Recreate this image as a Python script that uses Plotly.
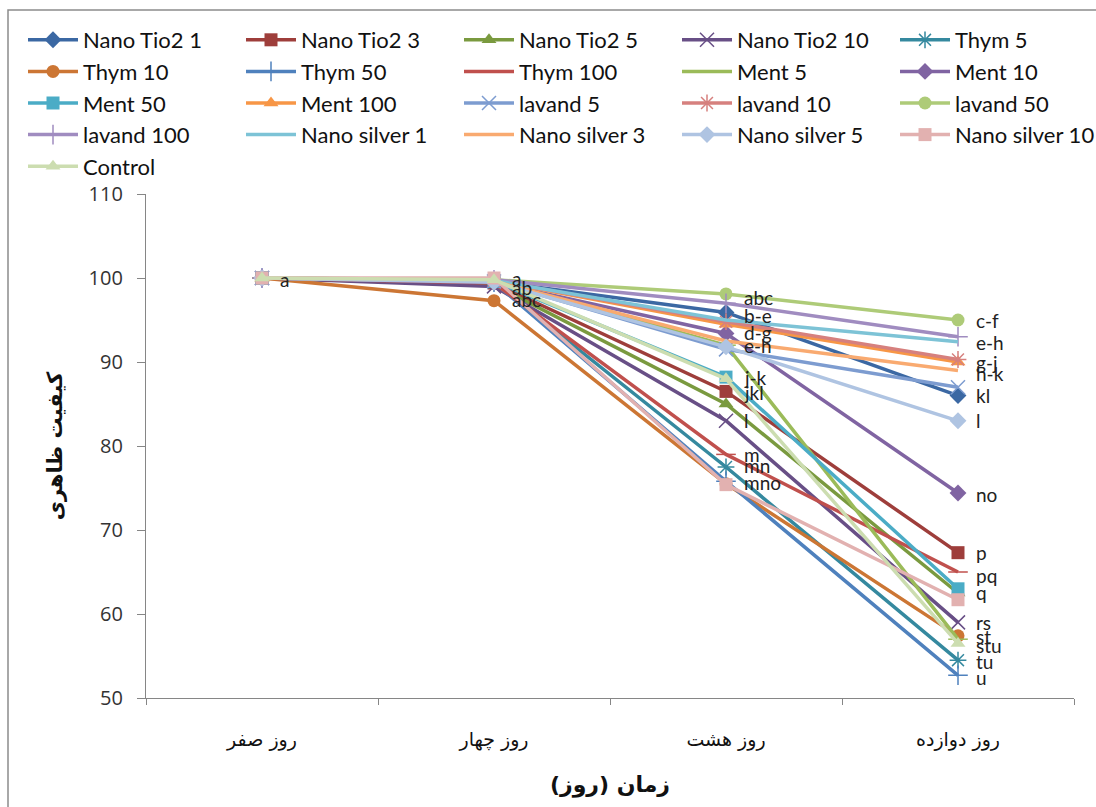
import plotly.graph_objects as go

days = ["روز صفر", "روز چهار", "روز هشت", "روز دوازده"]

series_names = ["Nano Tio2 1", "Nano Tio2 3", "Nano Tio2 5", "Nano Tio2 10", "Thym 5",
                "Thym 10", "Thym 50", "Thym 100", "Ment 5", "Ment 10",
                "Ment 50", "Ment 100", "lavand 5", "lavand 10", "lavand 50",
                "lavand 100", "Nano silver 1", "Nano silver 3", "Nano silver 5", "Nano silver 10",
                "Control"]

nano_tio2_1 = [100, 99.6, 95.9, 86.0]
nano_tio2_3 = [100, 99.4, 86.5, 67.3]
nano_tio2_5 = [100, 99.2, 85.0, 62.5]
nano_tio2_10 = [100, 99.0, 83.0, 59.0]
thym_5 = [100, 99.5, 77.5, 54.5]
thym_10 = [100, 97.3, 75.5, 57.4]
thym_50 = [100, 99.5, 75.8, 52.7]
thym_100 = [100, 99.4, 79.0, 65.0]
ment_5 = [100, 99.7, 92.0, 57.0]
ment_10 = [100, 99.5, 93.4, 74.4]
ment_50 = [100, 99.6, 88.2, 63.0]
ment_100 = [100, 99.7, 94.5, 90.0]
lavand_5 = [100, 99.6, 91.5, 87.0]
lavand_10 = [100, 99.7, 94.8, 90.3]
lavand_50 = [100, 99.8, 98.1, 95.0]
lavand_100 = [100, 99.8, 97.0, 93.0]
nano_silver_1 = [100, 99.7, 95.0, 92.4]
nano_silver_3 = [100, 99.6, 92.5, 89.0]
nano_silver_5 = [100, 99.5, 91.8, 83.0]
nano_silver_10 = [100, 100, 75.4, 61.7]
control = [100, 99.8, 88.0, 56.5]

series_values = [nano_tio2_1, nano_tio2_3, nano_tio2_5, nano_tio2_10, thym_5,
                 thym_10, thym_50, thym_100, ment_5, ment_10,
                 ment_50, ment_100, lavand_5, lavand_10, lavand_50,
                 lavand_100, nano_silver_1, nano_silver_3, nano_silver_5, nano_silver_10,
                 control]

# significance letters (day index, y position, text)
label_day = [0, 1, 1, 1,
             2, 2, 2, 2, 2, 2, 2, 2, 2, 2,
             3, 3, 3, 3, 3, 3, 3, 3, 3, 3, 3, 3, 3, 3, 3]
label_y = [99.8, 99.9, 98.9, 97.5,
           97.7, 95.5, 93.5, 92.0, 88.1, 86.4, 83.0, 79.0, 77.7, 75.7,
           94.9, 92.3, 89.9, 88.6, 86.0, 83.0, 74.2, 67.3, 64.6, 62.6, 59.0, 57.3, 56.3, 54.4, 52.5]
label_text = ["a", "a", "ab", "abc",
              "abc", "b-e", "d-g", "e-h", "j-k", "jkl", "l", "m", "mn", "mno",
              "c-f", "e-h", "g-j", "h-k", "kl", "l", "no", "p", "pq", "q", "rs", "st", "stu", "tu", "u"]

colors = ["#3B68A3", "#9E3E3B", "#7A9A3F", "#684F86", "#35899F",
          "#CC7634", "#4F81BD", "#C0504D", "#9BBB59", "#8064A2",
          "#4BACC6", "#F79646", "#7D9CD0", "#D6807E", "#AECB78",
          "#A08CC0", "#7DC3D6", "#F9AA70", "#AFC4E2", "#E2B1B0",
          "#CCDDB0"]
symbols = ["diamond", "square", "triangle-up", "x-thin-open", "asterisk-open",
           "circle", "cross-thin-open", "line-ew-open", "line-ew-open", "diamond",
           "square", "triangle-up", "x-thin-open", "asterisk-open", "circle",
           "cross-thin-open", None, None, "diamond", "square",
           "triangle-up"]

L, R, T, B = 146, 22, 194, 109
PW, PH = 1096 - L - R, 807 - T - B

legend_ids = ["legend", "legend2", "legend3", "legend4", "legend5"]

fig = go.Figure()
for i, (name, vals, col, sym) in enumerate(zip(series_names, series_values, colors, symbols)):
    if sym is None:
        mode = "lines"
        marker = dict()
    else:
        mode = "lines+markers"
        if sym in ("x-thin-open", "asterisk-open", "cross-thin-open", "line-ew-open"):
            marker = dict(symbol=sym, size=14, line=dict(color=col, width=1.5), color=col)
        else:
            marker = dict(symbol=sym, size=13, color=col, line=dict(width=0))
    fig.add_trace(go.Scatter(x=days, y=vals, name=name, mode=mode, legend=legend_ids[i % 5],
                             line=dict(color=col, width=3.5), marker=marker))

for d, yv, t in zip(label_day, label_y, label_text):
    fig.add_annotation(x=days[d], y=yv, text=t, showarrow=False, xanchor="left",
                       yanchor="middle", xshift=16,
                       font=dict(family="Lato", size=19, color="#222222"))

fig.add_shape(type="rect", xref="paper", yref="paper",
              x0=(8 - L) / PW, x1=(1110 - L) / PW,
              y0=-(820 - (807 - B)) / PH, y1=1 + (T - 10) / PH,
              line=dict(color="#8C8C8C", width=1.5), fillcolor="rgba(0,0,0,0)", layer="below")

col_starts = [30, 248, 466, 684, 902]
legend_layout = {}
for lid, cx in zip(legend_ids, col_starts):
    legend_layout[lid] = dict(orientation="v", x=(cx - 7 - L) / PW, y=1 + (T - 19) / PH,
                              xanchor="left", yanchor="top", itemwidth=50,
                              font=dict(family="Lato", size=22, color="#111111"),
                              bgcolor="rgba(0,0,0,0)", traceorder="normal", tracegroupgap=0)

fig.update_layout(
    width=1096, height=807,
    margin=dict(l=L, r=R, t=T, b=B, autoexpand=False),
    paper_bgcolor="white", plot_bgcolor="white",
    showlegend=True,
    xaxis=dict(type="category", range=[-0.5, 3.5], showline=True, linecolor="#868686",
               linewidth=1.3, showgrid=False, ticks="outside", tickson="boundaries", ticklen=6,
               tickcolor="#868686", ticklabelstandoff=24,
               tickfont=dict(family="DejaVu Sans", size=19, color="#111111"),
               title=dict(text="<b>زمان (روز)</b>", standoff=26,
                          font=dict(family="DejaVu Sans", size=22, color="#111111"))),
    yaxis=dict(range=[50, 110], dtick=10, showline=True, linecolor="#868686", linewidth=1.3,
               showgrid=False, zeroline=False, ticks="outside", ticklen=8, tickcolor="#868686",
               ticklabelstandoff=10,
               tickfont=dict(family="Open Sans", size=20, color="#333333"),
               title=dict(text="<b>کیفیت ظاهری</b>", standoff=20,
                          font=dict(family="DejaVu Sans", size=21, color="#111111"))),
    **legend_layout,
)

fig.write_html("out.html")
